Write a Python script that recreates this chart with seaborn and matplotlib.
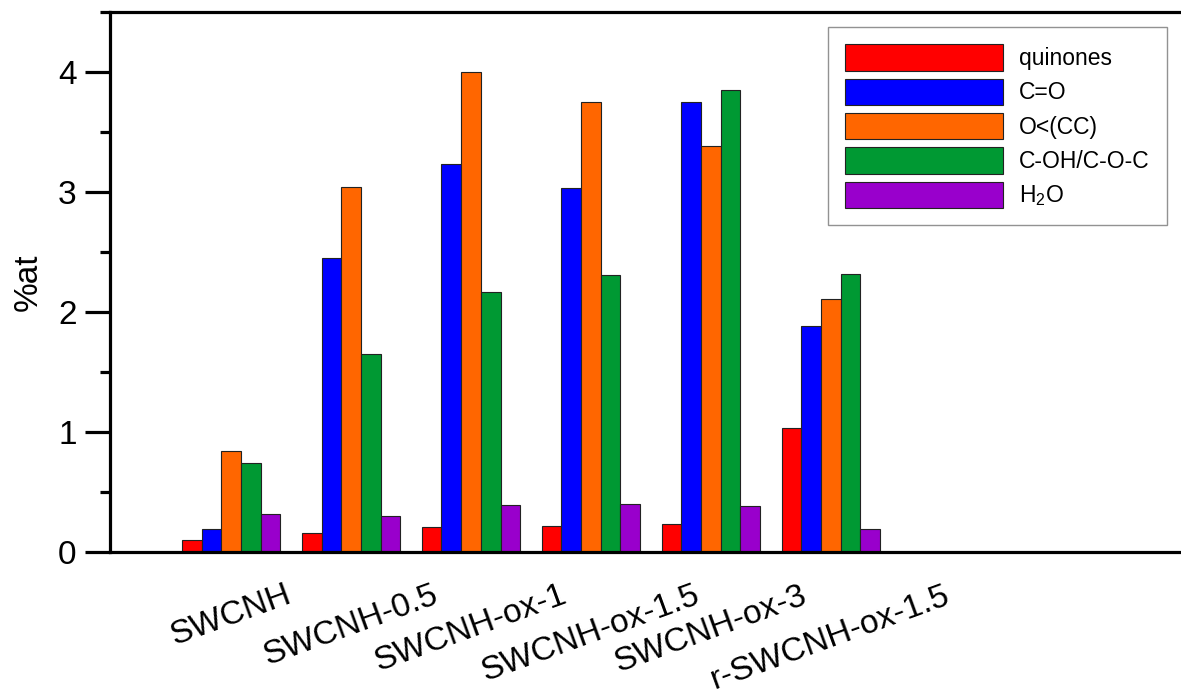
import matplotlib
matplotlib.use("Agg")
import matplotlib.pyplot as plt
from matplotlib.ticker import MultipleLocator
import seaborn as sns
import pandas as pd

# Samples and oxygen species contents (%at)
samples = ["SWCNH", "SWCNH-0.5", "SWCNH-ox-1", "SWCNH-ox-1.5", "SWCNH-ox-3", "r-SWCNH-ox-1.5"]
species = ["quinones", "C=O", "O<(CC)", "C-OH/C-O-C", "H$_2$O"]
quinones = [0.10, 0.16, 0.21, 0.22, 0.23, 1.03]
c_double_o = [0.19, 2.45, 3.23, 3.03, 3.75, 1.88]
o_cc = [0.84, 3.04, 4.00, 3.75, 3.38, 2.11]
c_oh = [0.74, 1.65, 2.17, 2.31, 3.85, 2.32]
water = [0.32, 0.30, 0.39, 0.40, 0.38, 0.19]
colors = ["#FF0000", "#0000FF", "#FF6600", "#009933", "#9900CC"]

series = [quinones, c_double_o, o_cc, c_oh, water]
rows = []
for sp, vals in zip(species, series):
    for s, v in zip(samples, vals):
        rows.append({"sample": s, "species": sp, "value": v})
df = pd.DataFrame(rows)

sns.set_theme(style="white")
plt.rcParams["font.family"] = ["Liberation Sans", "DejaVu Sans"]
plt.rcParams["mathtext.fontset"] = "custom"
plt.rcParams["mathtext.rm"] = "Liberation Sans"
plt.rcParams["mathtext.it"] = "Liberation Sans"
plt.rcParams["text.color"] = "black"
plt.rcParams["axes.labelcolor"] = "black"
plt.rcParams["xtick.color"] = "black"
plt.rcParams["ytick.color"] = "black"

fig = plt.figure(figsize=(11.81, 6.97), dpi=100)
ax = fig.add_axes([110 / 1181, 1 - 552 / 697, 1 - 110 / 1181, (552 - 12) / 697])

sns.barplot(data=df, x="sample", y="value", hue="species", order=samples,
            hue_order=species, palette=colors, width=0.82, gap=0,
            edgecolor="#222222", linewidth=0.8, saturation=1, ax=ax)

ax.set_xlim(-1.01, 7.92)
ax.set_ylim(0, 4.5)
ax.yaxis.set_major_locator(MultipleLocator(1))
ax.yaxis.set_minor_locator(MultipleLocator(0.5))

for side in ["left", "bottom", "top"]:
    ax.spines[side].set_visible(True)
    ax.spines[side].set_linewidth(2.3)
    ax.spines[side].set_color("black")
ax.spines["right"].set_visible(False)

ax.tick_params(axis="y", which="major", length=18, width=2.3, labelsize=24,
               pad=6, left=True, direction="out", colors="black")
ax.tick_params(axis="y", which="minor", length=7, width=2.3, left=True,
               direction="out", color="black")
ax.tick_params(axis="x", length=0, labelsize=24, pad=20, labelcolor="black")

ax.set_xticks(range(len(samples)))
ax.set_xticklabels(samples, rotation=20, ha="center", va="top")

ax.set_xlabel("")
ax.set_ylabel("%at", fontsize=24, labelpad=10, color="black")

handles, labels = ax.get_legend_handles_labels()
ax.get_legend().remove()
leg = fig.legend(handles, labels, loc="upper left",
                 bbox_to_anchor=(828 / 1181, 1 - 27 / 697), fontsize=16.5,
                 frameon=True, fancybox=False, edgecolor="#777777",
                 handlelength=6.9, handleheight=1.39, handletextpad=0.7,
                 labelspacing=0.35, borderpad=0.75, borderaxespad=0)
leg.get_frame().set_linewidth(1.0)
for t in leg.get_texts():
    t.set_color("black")
for p in leg.get_patches():
    p.set_edgecolor("#222222")
    p.set_linewidth(0.8)

fig.savefig("out.png", dpi=100, facecolor="white")
